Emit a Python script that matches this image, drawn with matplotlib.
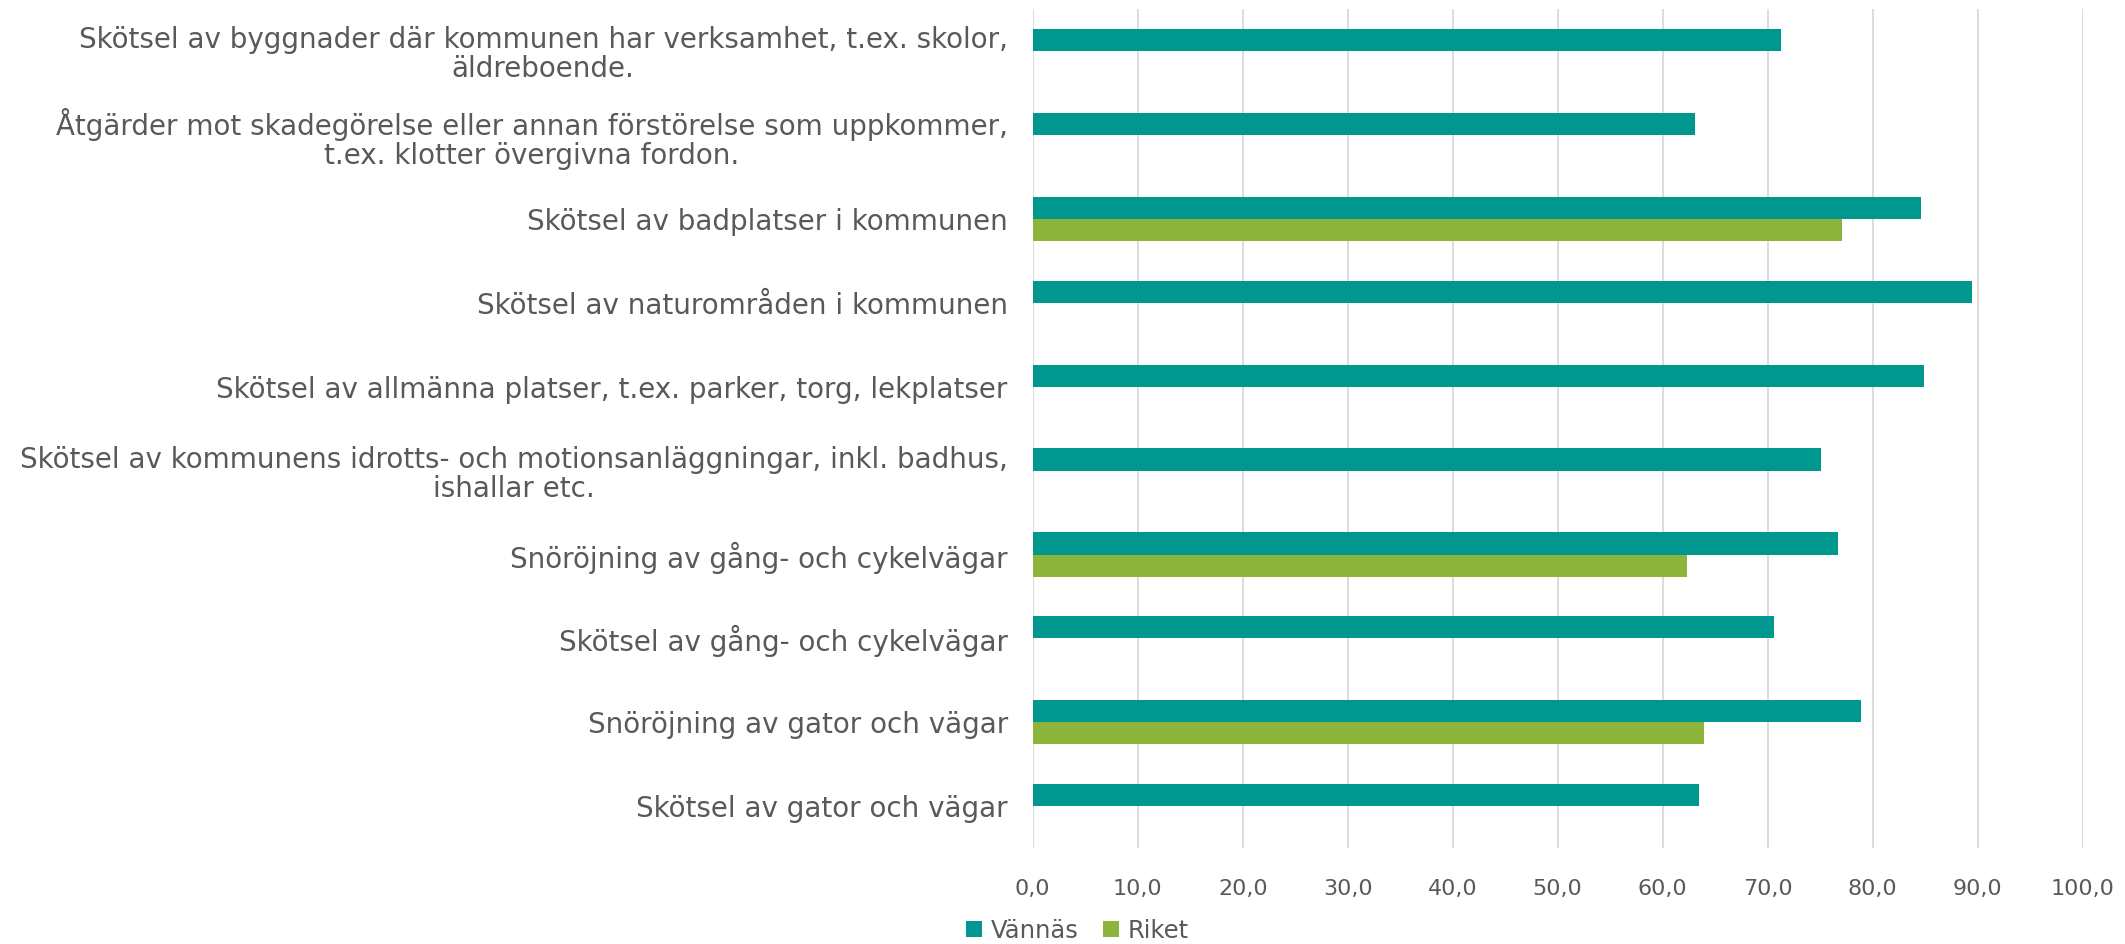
import matplotlib.pyplot as plt
import numpy as np
from matplotlib.ticker import FuncFormatter

# Categories listed bottom -> top (as Excel draws them)
categories = [
    "Skötsel av gator och vägar",
    "Snöröjning av gator och vägar",
    "Skötsel av gång- och cykelvägar",
    "Snöröjning av gång- och cykelvägar",
    "Skötsel av kommunens idrotts- och motionsanläggningar, inkl. badhus,\nishallar etc.",
    "Skötsel av allmänna platser, t.ex. parker, torg, lekplatser",
    "Skötsel av naturområden i kommunen",
    "Skötsel av badplatser i kommunen",
    "Åtgärder mot skadegörelse eller annan förstörelse som uppkommer,\nt.ex. klotter övergivna fordon.",
    "Skötsel av byggnader där kommunen har verksamhet, t.ex. skolor,\näldreboende.",
]
vannas = [63.5, 78.9, 70.6, 76.7, 75.1, 84.9, 89.5, 84.6, 63.1, 71.3]
riket = [np.nan, 63.9, np.nan, 62.3, np.nan, np.nan, np.nan, 77.1, np.nan, np.nan]
xticks = [0, 10, 20, 30, 40, 50, 60, 70, 80, 90, 100]

teal = "#00978F"
green = "#8DB53C"
text_col = "#595959"

fig = plt.figure(figsize=(21.25, 9.44), dpi=100)
ax = fig.add_axes([0.486, 0.1017, 0.494, 0.8883])

y = np.arange(len(categories))
h = 0.265
ax.barh(y + h / 2, vannas, height=h, color=teal, label="Vännäs", zorder=3)
ax.barh(y - h / 2, riket, height=h, color=green, label="Riket", zorder=3)

ax.set_xlim(0, 100)
ax.set_ylim(-0.5, len(categories) - 0.5)
ax.set_xticks(xticks)
ax.xaxis.set_major_formatter(FuncFormatter(lambda v, p: f"{v:.1f}".replace(".", ",")))
ax.set_yticks(y)
ax.set_yticklabels(categories, fontsize=20, color=text_col)
for t in ax.get_yticklabels():
    t.set_multialignment("center")
    t.set_linespacing(1.05)
ax.tick_params(axis="x", labelsize=16, colors=text_col, length=0, pad=22)
ax.tick_params(axis="y", length=0, pad=18)
ax.grid(axis="x", color="#d9d9d9", lw=1.3, zorder=0)
for s in ax.spines.values():
    s.set_visible(False)

fig.legend(loc="lower center", bbox_to_anchor=(0.507, -0.022), ncol=2, frameon=False,
           fontsize=17.5, labelcolor=text_col, handlelength=0.65, handleheight=0.65,
           handletextpad=0.35, columnspacing=1.0)

fig.savefig("out.png", dpi=100)
